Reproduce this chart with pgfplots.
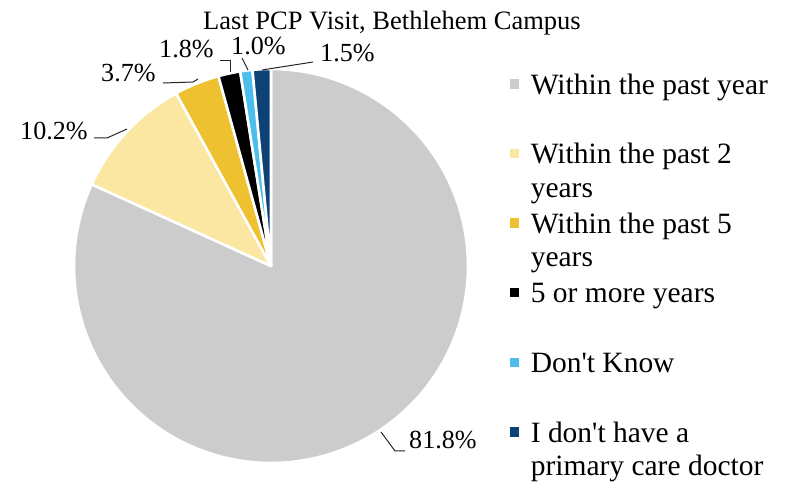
\documentclass[border=0pt]{standalone}
\usepackage{fontspec}
\setmainfont{Liberation Serif}
\usepackage{pgfplots}
\pgfplotsset{compat=1.18}

\definecolor{cgray}{HTML}{CCCCCC}
\definecolor{clyel}{HTML}{FBE6A2}
\definecolor{cgold}{HTML}{EDC12F}
\definecolor{cblk}{HTML}{000000}
\definecolor{clblue}{HTML}{4DBEEB}
\definecolor{cnavy}{HTML}{0E4276}

\newcommand\lfont{\fontsize{29.6}{33.5}\selectfont}
\newcommand\pfont{\fontsize{26.2}{30}\selectfont}
\newcommand\tfont{\fontsize{26.6}{30}\selectfont}

\begin{document}
\begin{tikzpicture}
% pie centre (271,216), radius 197; slices run clockwise from 12 o'clock
% shares: 81.8, 10.2, 3.7, 1.8, 1.0, 1.5 (percent)
\begin{axis}[
  width=798bp, height=482bp, scale only axis,
  xmin=0, xmax=798, ymin=0, ymax=482,
  hide axis, clip=false,
  every axis plot/.append style={draw=white, line width=2.6bp, line join=round},
  legend style={at={(axis cs:507,409)}, anchor=north west, draw=none, fill=none,
    inner sep=0pt, row sep=0pt, font=\lfont,
    cells={anchor=west},
    nodes={inner sep=0pt, text height=21bp, text depth=48.6bp}},
  legend image code/.code={\fill (0bp,18bp) rectangle (12bp,30bp);},
]
\addplot[fill=cgray, domain={90-3.6*81.8}:90, samples=160]
  ({271+197*cos(x)}, {216+197*sin(x)}) -- (271,216) -- cycle;
\addlegendentry{\hspace{9bp}Within the past year}
\addplot[fill=clyel, domain={90-3.6*92.0}:{90-3.6*81.8}, samples=30]
  ({271+197*cos(x)}, {216+197*sin(x)}) -- (271,216) -- cycle;
\addlegendentry{\hspace{9bp}\begin{tabular}[t]{@{}l@{}}Within the past 2\\years\end{tabular}}
\addplot[fill=cgold, domain={90-3.6*95.7}:{90-3.6*92.0}, samples=15]
  ({271+197*cos(x)}, {216+197*sin(x)}) -- (271,216) -- cycle;
\addlegendentry{\hspace{9bp}\begin{tabular}[t]{@{}l@{}}Within the past 5\\years\end{tabular}}
\addplot[fill=cblk, domain={90-3.6*97.5}:{90-3.6*95.7}, samples=10]
  ({271+197*cos(x)}, {216+197*sin(x)}) -- (271,216) -- cycle;
\addlegendentry{\hspace{9bp}5 or more years}
\addplot[fill=clblue, domain={90-3.6*98.5}:{90-3.6*97.5}, samples=8]
  ({271+197*cos(x)}, {216+197*sin(x)}) -- (271,216) -- cycle;
\addlegendentry{\hspace{9bp}Don\textquotesingle t Know}
\addplot[fill=cnavy, domain={90-3.6*100}:{90-3.6*98.5}, samples=8]
  ({271+197*cos(x)}, {216+197*sin(x)}) -- (271,216) -- cycle;
\addlegendentry{\hspace{9bp}\begin{tabular}[t]{@{}l@{}}I don\textquotesingle t have a\\primary care doctor\end{tabular}}

% title
\node[anchor=base, font=\tfont, inner sep=0pt] at (axis cs:392,452) {Last PCP Visit, Bethlehem Campus};

% data labels with leader lines
\begin{scope}[font=\pfont]
\node[anchor=base west, inner sep=0pt] at (axis cs:409,33) {81.8\%};
\node[anchor=base west, inner sep=0pt] at (axis cs:20,342) {10.2\%};
\node[anchor=base west, inner sep=0pt] at (axis cs:101,400) {3.7\%};
\node[anchor=base west, inner sep=0pt] at (axis cs:159,424) {1.8\%};
\node[anchor=base west, inner sep=0pt] at (axis cs:231,427) {1.0\%};
\node[anchor=base west, inner sep=0pt] at (axis cs:320,420) {1.5\%};
\end{scope}
\begin{scope}[black!85, line width=1bp]
\draw (axis cs:381,50) -- (axis cs:395,31) -- (axis cs:405,31);
\draw (axis cs:94,344) -- (axis cs:107,344) -- (axis cs:127,353);
\draw (axis cs:163,399) -- (axis cs:193,400) -- (axis cs:198,403);
\draw (axis cs:220,421) -- (axis cs:230,421) -- (axis cs:230,410);
\draw (axis cs:242,424) -- (axis cs:248,412);
\draw (axis cs:313,420) -- (axis cs:262,412);
\end{scope}
\end{axis}
\pgfresetboundingbox
\useasboundingbox (current axis.south west) rectangle (current axis.north east);
\end{tikzpicture}
\end{document}
